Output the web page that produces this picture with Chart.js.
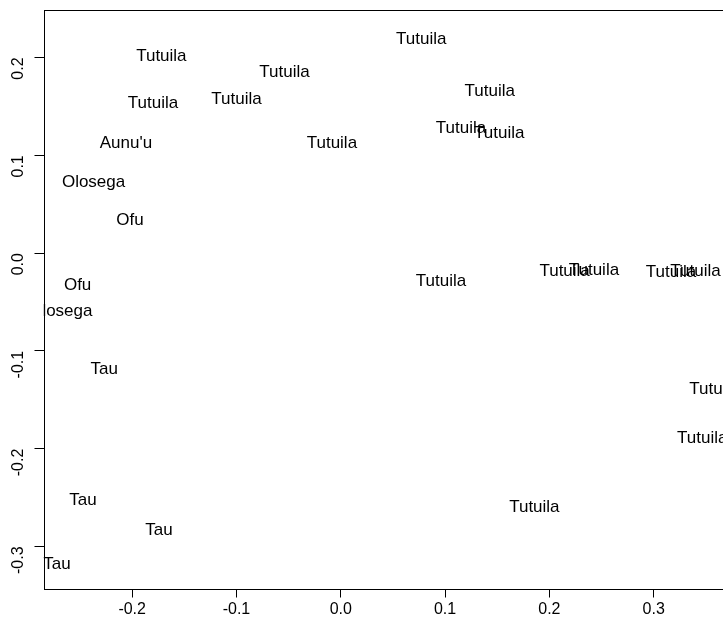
<!DOCTYPE html>
<html>
<head>
<meta charset="utf-8">
<script src="https://cdn.jsdelivr.net/npm/chart.js@4/dist/chart.umd.min.js"></script>
<style>
	html, body { margin: 0; padding: 0; background: #fff; overflow: hidden; }
	#wrap { width: 758px; height: 634px; }
</style>
</head>
<body>
<div id="wrap"><canvas id="mychart" width="758" height="634"></canvas></div>
<script>
// labels and their coordinates
var islands = ['Tutuila', 'Tutuila', 'Tutuila', 'Tutuila', "Aunu'u", 'Tutuila', 'Olosega', 'Ofu',
	'Tutuila', 'Tutuila', 'Tutuila', 'Tutuila', 'Ofu', 'Olosega', 'Tau', 'Tutuila',
	'Tutuila', 'Tutuila', 'Tutuila', 'Tutuila', 'Tutuila', 'Tutuila', 'Tau', 'Tau', 'Tau', 'Tutuila'];
var dim1 = [-0.172, -0.054, -0.180, -0.100, -0.206, -0.0085, -0.237, -0.202,
	0.0772, 0.1428, 0.1153, 0.1519, -0.2523, -0.2684, -0.2267, 0.0961,
	0.2146, 0.2427, 0.3166, 0.3401, 0.3583, 0.3465, -0.2472, -0.1743, -0.272, 0.1856];
var dim2 = [0.202, 0.186, 0.154, 0.159, 0.114, 0.1135, 0.0736, 0.0348,
	0.2194, 0.167, 0.1288, 0.1233, -0.0314, -0.0583, -0.118, -0.0273,
	-0.0178, -0.0168, -0.0183, -0.0171, -0.138, -0.188, -0.251, -0.2817, -0.3174, -0.2584];
var xTicks = [-0.2, -0.1, 0.0, 0.1, 0.2, 0.3];
var yTicks = [-0.3, -0.2, -0.1, 0.0, 0.1, 0.2];

var font = '17px "Liberation Sans", Arial, sans-serif';

function fmt(v) {
	if (Math.abs(v) < 1e-9) v = 0;
	return v.toFixed(1);
}

function keepTicks(list) {
	return function (scale) {
		scale.ticks = list.map(function (v) { return { value: v }; });
	};
}

var labelPlugin = {
	id: 'pointLabels',
	afterDatasetsDraw: function (chart) {
		var ctx = chart.ctx;
		var area = chart.chartArea;
		var xs = chart.scales.x;
		var ys = chart.scales.y;
		ctx.save();
		ctx.beginPath();
		ctx.rect(area.left, area.top, area.right - area.left, area.bottom - area.top);
		ctx.clip();
		ctx.font = font;
		ctx.fillStyle = '#000';
		ctx.textAlign = 'center';
		ctx.textBaseline = 'alphabetic';
		var i;
		for (i = 0; i < islands.length; i++) {
			var px = xs.getPixelForValue(dim1[i]);
			var py = ys.getPixelForValue(dim2[i]);
			ctx.fillText(islands[i], px, py + 6);
		}
		ctx.restore();

		// box and axis lines
		ctx.save();
		ctx.strokeStyle = '#000';
		ctx.lineWidth = 1;
		ctx.strokeRect(Math.round(area.left) + 0.5, Math.round(area.top) + 0.5,
			Math.round(area.right - area.left), Math.round(area.bottom - area.top));
		ctx.beginPath();
		var x0 = Math.round(area.left) + 0.5;
		ctx.moveTo(x0, ys.getPixelForValue(yTicks[0]));
		ctx.lineTo(x0, ys.getPixelForValue(yTicks[yTicks.length - 1]));
		var y0 = Math.round(area.bottom) + 0.5;
		ctx.moveTo(xs.getPixelForValue(xTicks[0]), y0);
		ctx.lineTo(xs.getPixelForValue(xTicks[xTicks.length - 1]), y0);
		ctx.stroke();
		ctx.restore();
	}
};

var points = [];
var i;
for (i = 0; i < dim1.length; i++) {
	points.push({ x: dim1[i], y: dim2[i] });
}

var ctx = document.getElementById('mychart').getContext('2d');
var myChart = new Chart(ctx, {
	type: 'scatter',
	data: {
		datasets: [{
			data: points,
			pointRadius: 0,
			pointHoverRadius: 0
		}]
	},
	plugins: [labelPlugin],
	options: {
		responsive: false,
		animation: false,
		events: [],
		layout: { padding: { top: 9.5, right: 0, left: 0, bottom: 0 } },
		plugins: {
			legend: { display: false },
			tooltip: { enabled: false }
		},
		scales: {
			x: {
				type: 'linear',
				min: -0.285,
				max: 0.4,
				afterBuildTicks: keepTicks(xTicks),
				afterFit: function (scale) {
					scale.height = 45.5;
					scale.paddingLeft = 0;
					scale.paddingRight = 0;
				},
				border: { display: false },
				grid: { drawOnChartArea: false, drawTicks: true, tickLength: 9, tickColor: '#000', tickWidth: 1 },
				ticks: {
					color: '#000',
					font: { family: '"Liberation Sans", Arial, sans-serif', size: 16 },
					padding: 2,
					maxRotation: 0,
					callback: function (v) { return fmt(v); }
				}
			},
			y: {
				type: 'linear',
				min: -0.343,
				max: 0.249,
				afterBuildTicks: keepTicks(yTicks),
				afterFit: function (scale) {
					scale.width = 43.5;
					scale.paddingTop = 0;
					scale.paddingBottom = 0;
				},
				border: { display: false },
				grid: { drawOnChartArea: false, drawTicks: true, tickLength: 9, tickColor: '#000', tickWidth: 1 },
				ticks: {
					color: '#000',
					font: { family: '"Liberation Sans", Arial, sans-serif', size: 16 },
					padding: 16,
					minRotation: 90,
					maxRotation: 90,
					callback: function (v) { return fmt(v); }
				}
			}
		}
	}
});
</script>
</body>
</html>
